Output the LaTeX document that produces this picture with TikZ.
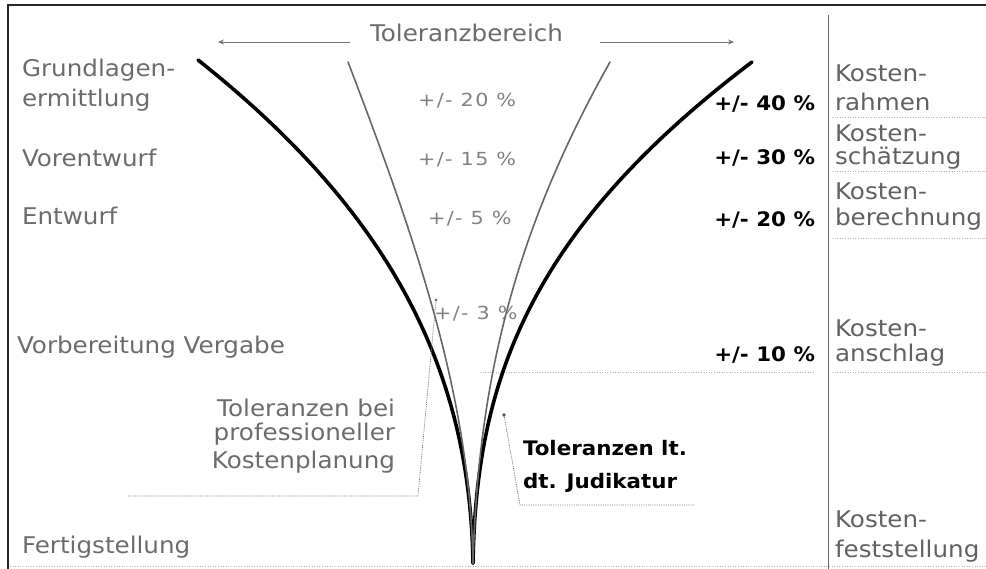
\documentclass[tikz,border=0pt]{standalone}
\usepackage{fontspec}
\setmainfont{DejaVu Sans}
\newfontfamily\vf[FakeStretch=1.07]{DejaVu Sans}
\newfontfamily\vfm[FakeStretch=1.15,LetterSpace=8]{DejaVu Sans}
\usetikzlibrary{arrows.meta}
\definecolor{labgray}{gray}{0.42}
\definecolor{colgray}{gray}{0.38}
\definecolor{midgray}{gray}{0.5}
\begin{document}
\begin{tikzpicture}[x=1pt,y=-1pt,
  every node/.style={inner sep=0pt,outer sep=0pt},
  lbl/.style={anchor=base west,text=labgray,font=\vf\fontsize{23}{25}\selectfont},
  lblr/.style={anchor=base east,text=labgray,font=\vf\fontsize{23}{25}\selectfont},
  clbl/.style={anchor=base west,text=colgray,font=\vf\fontsize{23}{25}\selectfont},
  midpct/.style={anchor=base west,text=midgray,font=\vfm\fontsize{18}{20}\selectfont},
  boldpct/.style={anchor=base east,text=black,font=\vf\bfseries\fontsize{20}{22}\selectfont},
  boldlbl/.style={anchor=base west,text=black,font=\vf\bfseries\fontsize{20}{22}\selectfont},
  thickcurve/.style={line width=3.6pt,black,line cap=round},
  thincurve/.style={line width=1.6pt,black!60,line cap=round},
  callout/.style={densely dotted,line width=0.8pt,black!55},
  rangearrow/.style={line width=0.9pt,black!55,-{Stealth[length=6pt,width=5pt]}},
  rowline/.style={dotted,line width=0.6pt,black!30},
  frameline/.style={line width=1.4pt,black!85}
]
\useasboundingbox (0,0) rectangle (986,569);

% frame
\coordinate (fTL) at (8,5);
\coordinate (fTR) at (986,5);
\coordinate (fBL) at (8,569);
\draw[frameline] (fBL) -- (fTL) -- (fTR);
\coordinate (dTop) at (828,15);
\coordinate (dBot) at (828,569);
\draw[line width=1pt,black!60] (dTop) -- (dBot);

% faint row lines
\foreach \yy/\xa in {117/832,171/832,238/832,372/832}{
  \draw[rowline] (\xa,\yy) -- (986,\yy);
}
\draw[rowline] (10,566) -- (986,566);
\draw[rowline] (480,372) -- (815,372);

% title and range arrows
\node[anchor=base west,text=labgray,font=\vf\fontsize{23}{25}\selectfont] (title) at (370,42) {Toleranzbereich};
\coordinate (laS) at (350,42);
\coordinate (laE) at (218,42);
\coordinate (raS) at (600,42);
\coordinate (raE) at (734,42);
\draw[rangearrow] (laS) -- (laE);
\draw[rangearrow] (raS) -- (raE);

% funnel curves
\coordinate (tip) at (473,563);
\coordinate (tkL) at (198,60);
\coordinate (tkR) at (752,62);
\coordinate (tnL) at (348,62);
\coordinate (tnR) at (610,62);
\draw[thickcurve] (tkL) .. controls (400,220) and (470,380) .. (tip);
\draw[thickcurve] (tkR) .. controls (530,230) and (476,380) .. (tip);
\draw[thincurve] (tnL) .. controls (420,250) and (470,400) .. (tip);
\draw[thincurve] (tnR) .. controls (510,240) and (478,390) .. (tip);

% left labels
\node[lbl] (grund1) at (22,77) {Grundlagen-};
\node[lbl] (grund2) at (22,107) {ermittlung};
\node[lbl] (vorent) at (22,167) {Vorentwurf};
\node[lbl] (entw) at (22,225) {Entwurf};
\node[lbl] (vorber) at (17,354) {Vorbereitung Vergabe};
\node[lbl] (fertig) at (22,553) {Fertigstellung};

% middle percentages
\node[midpct] (p20) at (418,107) {+/- 20 \%};
\node[midpct] (p15) at (418,166) {+/- 15 \%};
\node[midpct] (p5) at (428,225) {+/- 5 \%};
\node[midpct] (p3) at (434,320) {+/- 3 \%};

% bold percentages
\node[boldpct] (b40) at (815,111) {+/- 40 \%};
\node[boldpct] (b30) at (815,165) {+/- 30 \%};
\node[boldpct] (b20) at (815,227) {+/- 20 \%};
\node[boldpct] (b10) at (815,362) {+/- 10 \%};

% right column
\node[clbl] (k1a) at (835,82) {Kosten-};
\node[clbl] (k1b) at (835,111) {rahmen};
\node[clbl] (k2a) at (835,142) {Kosten-};
\node[clbl] (k2b) at (835,165) {schätzung};
\node[clbl] (k3a) at (835,200) {Kosten-};
\node[clbl] (k3b) at (835,226) {berechnung};
\node[clbl] (k4a) at (835,337) {Kosten-};
\node[clbl] (k4b) at (835,362) {anschlag};
\node[clbl] (k5a) at (835,527) {Kosten-};
\node[clbl] (k5b) at (835,557) {feststellung};

% callout: professional planning
\node[lblr] (prof1) at (395,417) {Toleranzen bei};
\node[lblr] (prof2) at (395,441) {professioneller};
\node[lblr] (prof3) at (395,468) {Kostenplanung};
\coordinate (pA) at (436,300);
\coordinate (pB) at (418,496);
\coordinate (pC) at (128,496);
\fill[black!55] (pA) circle (1.6pt);
\draw[callout] (pA) -- (pB) -- (pC);

% callout: Judikatur
\node[boldlbl] (jud1) at (523,455) {Toleranzen lt.};
\node[boldlbl] (jud2) at (523,488) {dt. Judikatur};
\coordinate (jA) at (504,415);
\coordinate (jB) at (520,505);
\coordinate (jC) at (695,505);
\fill[black!70] (jA) circle (1.8pt);
\draw[callout] (jA) -- (jB) -- (jC);
\end{tikzpicture}
\end{document}
